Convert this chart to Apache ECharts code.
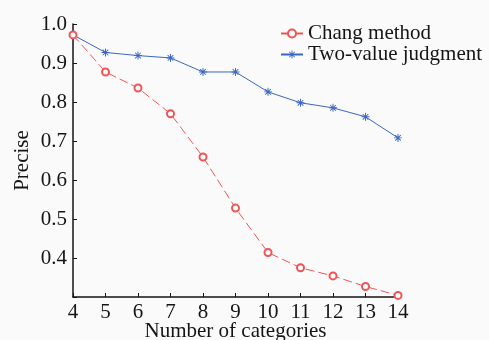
<!DOCTYPE html>
<html>
<head>
<meta charset="utf-8">
<script src="https://cdn.jsdelivr.net/npm/echarts@6/dist/echarts.min.js"></script>
<style>
html, body { margin: 0; padding: 0; background: #fff; }
#chart { width: 489px; height: 340px; }
</style>
</head>
<body>
<div id="chart"></div>
<script>
// 横轴：类别数
const categories = [4, 5, 6, 7, 8, 9, 10, 11, 12, 13, 14]
// Chang 方法
const changMethod = [0.972, 0.877, 0.836, 0.770, 0.659, 0.528, 0.414, 0.375, 0.354, 0.327, 0.304]
// 二值判断
const twoValue = [0.972, 0.927, 0.919, 0.913, 0.877, 0.877, 0.826, 0.798, 0.785, 0.762, 0.708]

const serif = 'Liberation Serif'
const ink = '#151515'
// 星号标记
const star = 'path://M-0.6,-5L0.6,-5L0.6,5L-0.6,5Z M-5,-0.6L5,-0.6L5,0.6L-5,0.6Z M-3.9,-3.1L-3.1,-3.9L3.9,3.1L3.1,3.9Z M3.1,-3.9L3.9,-3.1L-3.1,3.9L-3.9,3.1Z'

const myChart = echarts.init(document.getElementById('chart'))

const option = {
    backgroundColor: '#fafafa',
    animation: false,
    textStyle: { fontFamily: serif },
    grid: { left: 73, right: 91, top: 24, bottom: 43, outerBoundsMode: 'none' },
    legend: {
        orient: 'vertical',
        left: 280,
        top: 23,
        padding: 0,
        itemWidth: 22,
        itemHeight: 10,
        itemGap: 0,
        textStyle: { fontFamily: serif, fontSize: 21, lineHeight: 20, color: ink },
        data: ['Chang method', 'Two-value judgment']
    },
    xAxis: {
        type: 'value',
        min: 4,
        max: 14,
        interval: 1,
        name: 'Number of categories',
        nameLocation: 'middle',
        nameGap: 24,
        nameMoveOverlap: false,
        nameTextStyle: { fontFamily: serif, fontSize: 21, color: ink },
        axisLine: { lineStyle: { color: ink, width: 1.5 } },
        axisTick: { inside: true, length: 4, lineStyle: { color: ink } },
        axisLabel: { fontFamily: serif, fontSize: 21, color: ink, margin: 5 },
        splitLine: { show: false }
    },
    yAxis: {
        type: 'value',
        min: 0.3,
        max: 1.0,
        interval: 0.1,
        name: 'Precise',
        nameLocation: 'middle',
        nameGap: 40,
        nameMoveOverlap: false,
        nameTextStyle: { fontFamily: serif, fontSize: 21, color: ink },
        axisLine: { show: true, lineStyle: { color: ink, width: 1.5 } },
        axisTick: { show: true, inside: true, length: 4, lineStyle: { color: ink } },
        axisLabel: {
            fontFamily: serif, fontSize: 21, color: ink, margin: 6,
            formatter: v => (Math.abs(v - 0.3) < 1e-6 ? '' : v.toFixed(1))
        },
        splitLine: { show: false }
    },
    series: [
        {
            name: 'Chang method',
            type: 'line',
            data: categories.map((c, i) => [c, changMethod[i]]),
            symbol: 'emptyCircle',
            symbolSize: 7,
            itemStyle: { color: '#f05555', borderWidth: 1 },
            lineStyle: { color: '#f05555', width: 1, type: [9, 4] },
            z: 3
        },
        {
            name: 'Two-value judgment',
            type: 'line',
            data: categories.map((c, i) => [c, twoValue[i]]),
            symbol: star,
            symbolSize: 8,
            itemStyle: { color: '#3a66c4' },
            lineStyle: { color: '#3a66c4', width: 1 },
            z: 2
        }
    ]
}

myChart.setOption(option)
</script>
</body>
</html>
